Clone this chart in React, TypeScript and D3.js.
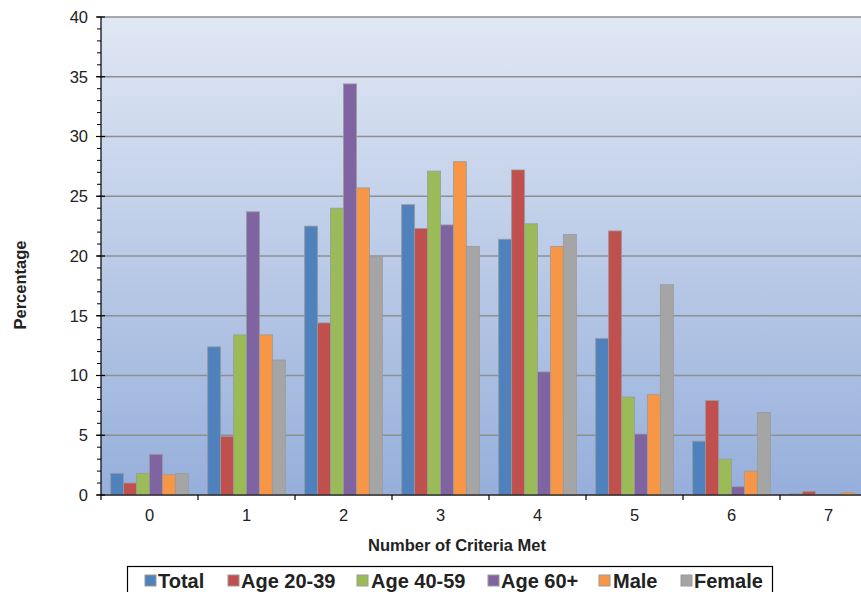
import React from "react";
import * as d3 from "d3";

const categories = ["0", "1", "2", "3", "4", "5", "6", "7"];
const seriesNames = ["Total", "Age 20-39", "Age 40-59", "Age 60+", "Male", "Female"];
const seriesColors = ["#4F81BD", "#C0504D", "#9BBB59", "#8064A2", "#F79646", "#A5A5A5"];
const total = [1.8, 12.4, 22.5, 24.3, 21.4, 13.1, 4.5, 0.1];
const age2039 = [1.0, 4.9, 14.4, 22.3, 27.2, 22.1, 7.9, 0.3];
const age4059 = [1.8, 13.4, 24.0, 27.1, 22.7, 8.2, 3.0, 0];
const age60 = [3.4, 23.7, 34.4, 22.6, 10.3, 5.1, 0.7, 0];
const male = [1.7, 13.4, 25.7, 27.9, 20.8, 8.4, 2.0, 0.2];
const female = [1.8, 11.3, 19.9, 20.8, 21.8, 17.6, 6.9, 0];
const yTicks = [0, 5, 10, 15, 20, 25, 30, 35, 40];

const seriesValues = [total, age2039, age4059, age60, male, female];

export default function App() {
  const W = 861, H = 592;
  const left = 101, top = 17, bottom = 495;
  const bandW = 97;
  const right = left + bandW * categories.length;
  const x = d3.scaleBand().domain(categories).range([left, right]).paddingInner(0).paddingOuter(0);
  const y = d3.scaleLinear().domain([0, 40]).range([bottom, top]);
  const inner = d3.scaleBand().domain(seriesNames).range([0, x.bandwidth()]).paddingOuter(0.74).paddingInner(0);
  const minor = d3.range(0, 41, 1);
  const font = "'Liberation Sans', Arial, sans-serif";

  const legendItems = [
    { mx: 145, tx: 158 },
    { mx: 228, tx: 241 },
    { mx: 357, tx: 371 },
    { mx: 488, tx: 501 },
    { mx: 599, tx: 613 },
    { mx: 681, tx: 694 },
  ];

  return (
    <svg width={W} height={H} style={{ position: "absolute", left: 0, top: 0 }} fontFamily={font}>
      <defs>
        <linearGradient id="bg" x1="0" y1="0" x2="0" y2="1">
          <stop offset="0%" stopColor="#e0e7f4" />
          <stop offset="100%" stopColor="#96afdb" />
        </linearGradient>
      </defs>
      <rect x={0} y={0} width={W} height={H} fill="#ffffff" />
      <rect x={left} y={top} width={right - left} height={bottom - top} fill="url(#bg)" />
      {yTicks.map((t) => (
        <line key={"g" + t} x1={left} x2={right} y1={y(t)} y2={y(t)} stroke="#8f8f8f" strokeWidth={1.5} />
      ))}
      {categories.map((c, ci) =>
        seriesNames.map((s, si) => {
          const v = seriesValues[si][ci];
          const bx = (x(c) as number) + (inner(s) as number);
          return (
            <rect
              key={c + s}
              x={bx}
              y={y(v)}
              width={inner.bandwidth()}
              height={Math.max(0, bottom - y(v))}
              fill={seriesColors[si]}
              stroke="#9a9a9a"
              strokeOpacity={0.8}
              strokeWidth={1}
            />
          );
        })
      )}
      {/* y axis */}
      <line x1={left} x2={left} y1={top} y2={bottom} stroke="#000" strokeWidth={1.2} />
      {minor.map((t) => (
        <line key={"m" + t} x1={left - 4} x2={left} y1={y(t)} y2={y(t)} stroke="#000" strokeWidth={1} />
      ))}
      {yTicks.map((t) => (
        <g key={"yt" + t}>
          <line x1={left - 5} x2={left + 4} y1={y(t)} y2={y(t)} stroke="#000" strokeWidth={1.2} />
          <text x={left - 13} y={y(t)} dy="0.36em" textAnchor="end" fontSize={16.5} fill="#222">{t}</text>
        </g>
      ))}
      {/* x axis */}
      <line x1={left} x2={right} y1={bottom} y2={bottom} stroke="#000" strokeWidth={1.2} />
      {d3.range(categories.length + 1).map((i) => (
        <line key={"xt" + i} x1={left + i * bandW} x2={left + i * bandW} y1={bottom} y2={bottom + 5} stroke="#000" strokeWidth={1.2} />
      ))}
      {categories.map((c) => (
        <text key={"xl" + c} x={(x(c) as number) + x.bandwidth() / 2} y={521} textAnchor="middle" fontSize={16.5} fill="#222">{c}</text>
      ))}
      <text x={457} y={551} textAnchor="middle" fontSize={16.5} fontWeight="bold" fill="#222">Number of Criteria Met</text>
      <text transform={`translate(26,285) rotate(-90)`} textAnchor="middle" fontSize={16.5} fontWeight="bold" fill="#222">Percentage</text>
      {/* legend */}
      <rect x={127.5} y={566.5} width={645} height={40} fill="#fff" stroke="#000" strokeWidth={1.2} />
      {seriesNames.map((s, i) => (
        <g key={"lg" + s}>
          <rect x={legendItems[i].mx} y={575} width={11} height={11} fill={seriesColors[i]} stroke="#9a9a9a" strokeWidth={1} />
          <text x={legendItems[i].tx} y={588} fontSize={20} fontWeight="bold" fill="#222">{s}</text>
        </g>
      ))}
    </svg>
  );
}
